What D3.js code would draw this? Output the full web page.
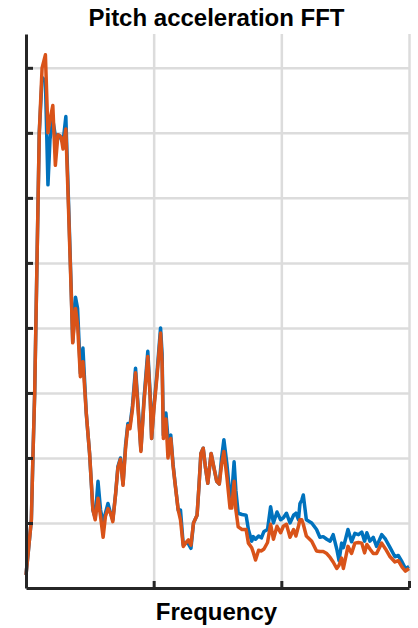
<!DOCTYPE html>
<html lang="en">
<head>
<meta charset="UTF-8">
<title>Pitch acceleration FFT</title>
<script src="https://d3js.org/d3.v7.min.js"></script>
<style>
    body { margin: 0; background: #fff; }
    .gridline line { stroke: #dcdcdc; stroke-width: 2.5; }
    .gridline path { display: none; }
    .axis path, .axis line { stroke: #262626; stroke-width: 3; }
    .axis text { display: none; }
    .chart-header, .axis-label {
        font-family: "Liberation Sans", Arial, Helvetica, sans-serif;
        font-weight: bold;
        font-size: 24px;
        fill: #000;
        text-anchor: middle;
    }
    .series { fill: none; stroke-width: 3.5; stroke-linejoin: round; }
</style>
</head>
<body>
<script>

// ================== DATA ==================
var freq = [0, 1.0, 2.1, 2.7, 3.4, 4.3, 5.2, 6.3, 7.6, 8.6, 9.4, 10.5, 11.5, 12.5, 13.3, 13.8, 14.5, 15.6,
    16.6, 17.7, 18.3, 19.4, 20.2, 21.3, 22.3, 23.6, 24.9, 26.2, 27.1, 28.2, 29.2, 30.2, 31.1, 32.1, 33.1,
    34.0, 35.1, 36.0, 37.0, 38.0, 39.0, 39.9, 40.7, 41.7, 42.9, 43.9, 45.0, 46.2, 47.7, 48.6, 49.2, 50.1,
    51.3, 52.7, 53.3, 53.8, 54.8, 55.6, 56.7, 57.6, 58.4, 59.6, 60.5, 61.6, 62.7, 63.6, 64.6, 65.6, 67.0,
    67.8, 68.5, 69.4, 70.3, 71.2, 72.5, 73.6, 74.7, 75.7, 76.6, 77.5, 78.7, 79.9, 80.6, 81.5, 82.2, 83.1,
    84.6, 86.2, 87.1, 88.4, 89.0, 89.9, 91.1, 92.2, 93.2, 94.6, 95.8, 96.9, 98.3, 99.7, 100.8, 102.0, 103.4,
    104.8, 105.7, 106.7, 107.3, 108.0, 108.6, 109.8, 111.9, 113.8, 115.1, 116.4, 117.8, 119.1, 120.3, 121.7,
    122.6, 123.6, 124.3, 126.1, 127.5, 128.8, 130.2, 131.5, 132.6, 133.5, 134.7, 136.0, 137.3, 139.3, 140.8,
    142.6, 144.5, 145.8, 147.3, 148.6, 150];

var blueAmp = [0.2, 0.6, 1.05, 2.0, 3.0, 5.0, 7.0, 7.85, 7.8, 6.2, 6.9, 7.2, 6.95, 6.97, 6.95, 6.9, 6.85, 7.25,
    6.0, 4.6, 3.78, 4.47, 4.3, 3.3, 3.69, 2.69, 2.07, 1.2, 1.08, 1.64, 1.2, 1.0, 1.15, 1.3, 1.15,
    1.05, 1.45, 1.87, 2.0, 1.6, 2.2, 2.53, 2.5, 2.8, 3.38, 2.8, 2.12, 2.9, 3.64, 3.0, 2.3, 2.8,
    3.3, 4.0, 3.6, 2.35, 2.69, 2.3, 2.35, 1.9, 1.61, 1.2, 1.2, 0.66, 0.7, 0.68, 0.61, 1.0, 1.12,
    1.6, 2.07, 2.15, 1.85, 1.61, 2.07, 1.85, 1.64, 1.6, 2.0, 2.28, 1.9, 1.4, 1.45, 1.94, 1.5, 1.15,
    1.13, 1.12, 0.9, 0.72, 0.79, 0.75, 0.8, 0.77, 0.87, 0.9, 1.25, 1.0, 1.17, 1.05, 1.08, 1.15, 1.0,
    1.12, 1.15, 1.05, 1.3, 1.35, 1.43, 1.05, 1.0, 0.9, 0.78, 0.79, 0.75, 0.72, 0.82, 0.6,
    0.42, 0.69, 0.62, 0.9, 0.71, 0.84, 0.82, 0.86, 0.72, 0.85, 0.72, 0.78, 0.64, 0.82, 0.75,
    0.62, 0.48, 0.5, 0.4, 0.3, 0.33];

var orangeAmp = [0.2, 0.6, 1.05, 2.0, 3.0, 5.0, 7.0, 8.0, 8.2, 7.0, 7.2, 7.42, 6.5, 6.97, 6.95, 6.93, 6.75, 7.06,
    5.9, 4.55, 3.77, 4.3, 4.05, 3.25, 3.48, 2.69, 2.07, 1.2, 1.05, 1.38, 1.1, 0.78, 1.1, 1.22, 1.15,
    1.02, 1.45, 1.85, 1.98, 1.58, 2.15, 2.5, 2.45, 2.75, 3.31, 2.75, 2.1, 2.85, 3.56, 2.95, 2.3, 2.75,
    3.25, 3.92, 3.45, 2.3, 2.6, 2.0, 2.3, 1.88, 1.6, 1.2, 1.05, 0.64, 0.7, 0.74, 0.66, 1.0, 1.12,
    1.6, 2.07, 2.15, 1.85, 1.61, 2.07, 1.85, 1.64, 1.6, 1.9, 2.1, 1.7, 1.23, 1.23, 1.64, 1.2, 0.94,
    0.9, 0.9, 0.69, 0.62, 0.55, 0.43, 0.58, 0.57, 0.6, 0.7, 0.98, 0.75, 0.95, 0.85, 0.95, 0.98, 0.78,
    0.9, 0.8, 0.95, 1.05, 1.05, 0.98, 0.8, 0.72, 0.57, 0.56, 0.56, 0.53, 0.47, 0.4, 0.3,
    0.35, 0.46, 0.3, 0.64, 0.53, 0.69, 0.7, 0.69, 0.54, 0.67, 0.6, 0.53, 0.53, 0.69, 0.6,
    0.48, 0.4, 0.42, 0.32, 0.26, 0.3];

var xTicks = [0, 50, 100, 150];
var yTicks = [1, 2, 3, 4, 5, 6, 7, 8];

// ================== INIT SVG ==================
var w = 418;
var h = 628;
var margin = { top: 34, bottom: 40, left: 26, right: 9 };
var width = w - margin.left - margin.right;
var height = h - margin.top - margin.bottom;

var svg = d3.select("body").append("svg")
    .attr("width", w)
    .attr("height", h);
var chart = svg.append("g")
    .attr("transform", "translate(" + margin.left + "," + margin.top + ")");

// ================== SCALES ==================
var x = d3.scaleLinear().domain([0, 150]).range([0, width]);
var y = d3.scaleLinear().domain([0, 8.52]).range([height, 0]);

var xGridlines = d3.axisBottom(x).tickValues(xTicks.slice(1)).tickSize(-height).tickFormat("");
var yGridlines = d3.axisLeft(y).tickValues(yTicks).tickSize(-width).tickFormat("");

var xAxis = d3.axisBottom(x).tickValues(xTicks).tickSize(-7).tickSizeOuter(0).tickFormat("");
var yAxis = d3.axisLeft(y).tickValues(yTicks).tickSize(-7).tickSizeOuter(0).tickFormat("");

// gridlines behind the data
chart.append("g").classed("gridline x", true)
    .attr("transform", "translate(0," + height + ")")
    .call(xGridlines);
chart.append("g").classed("gridline y", true)
    .call(yGridlines);

// ================== LINES ==================
var line = d3.line()
    .x(function(d) { return x(d[0]); })
    .y(function(d) { return y(d[1]); });

var series = [
    { values: blueAmp, color: "#0072BD" },
    { values: orangeAmp, color: "#D95319" }
];

series.forEach(function(s) {
    var pts = freq.map(function(f, i) { return [f, s.values[i]]; });
    chart.append("path")
        .datum(pts)
        .classed("series", true)
        .attr("stroke", s.color)
        .attr("d", line);
});

// ================== AXES ==================
chart.append("g").classed("axis x", true)
    .attr("transform", "translate(0," + height + ")")
    .call(xAxis);
chart.append("g").classed("axis y", true)
    .call(yAxis);

chart.append("text")
    .classed("chart-header", true)
    .attr("x", width / 2 - 1)
    .attr("y", -8)
    .text("Pitch acceleration FFT");

chart.append("text")
    .classed("axis-label", true)
    .attr("x", width / 2 - 1)
    .attr("y", height + 32)
    .text("Frequency");

</script>
</body>
</html>
